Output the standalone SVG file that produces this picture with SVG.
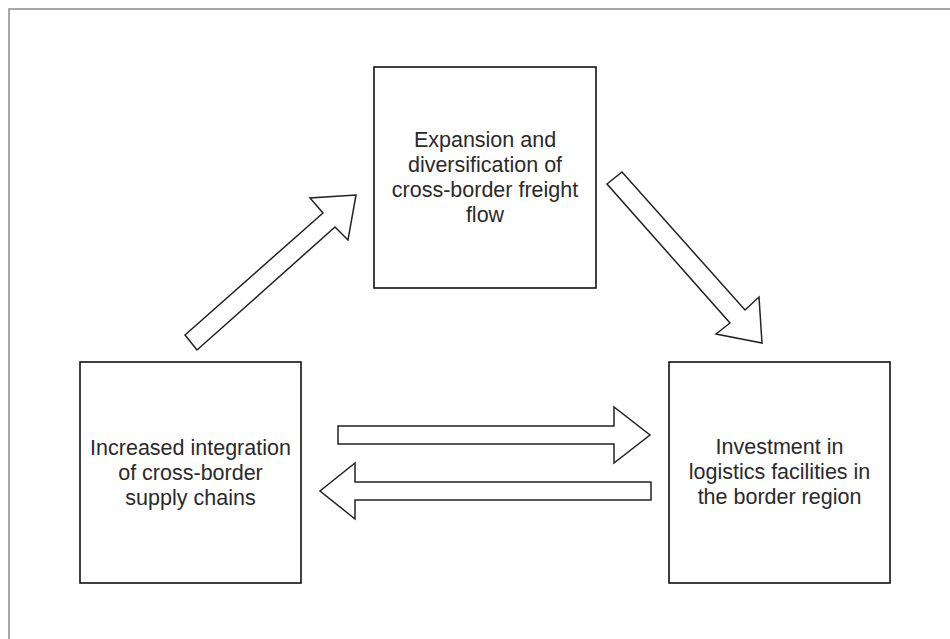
<svg xmlns="http://www.w3.org/2000/svg" width="950" height="639" viewBox="0 0 950 639">
<style>
.box{fill:#fff;stroke:#111;stroke-width:1.6}
.arr{fill:#fff;stroke:#222;stroke-width:1.5;stroke-linejoin:miter}
.lbl{font-family:"Liberation Sans",Arial,sans-serif;font-size:21.5px;fill:#2a2a2a;text-anchor:middle}
</style>
<rect x="0" y="0" width="950" height="639" fill="#fff"/>
<rect x="9" y="9" width="1000" height="1000" fill="none" stroke="#8c8c8c" stroke-width="1.5"/>
<g id="connectors">
<polygon class="arr" points="185,335 323,213 310,198 356,195 348,240 335,227 197,350"/>
<polygon class="arr" points="607,184 622,172 745,310 759,297 762,343 716,334 730,323"/>
<polygon class="arr" points="338,426 614,426 614,407 650,435 614,463 614,444 338,444"/>
<polygon class="arr" points="651,482 355,482 355,463 320,491 355,519 355,500 651,500"/>
</g>
<g id="node-top">
<rect class="box" x="374" y="67" width="222" height="221"/>
<text class="lbl" x="485" y="147">Expansion and</text>
<text class="lbl" x="485" y="172">diversification of</text>
<text class="lbl" x="485" y="197">cross-border freight</text>
<text class="lbl" x="485" y="222">flow</text>
</g>
<g id="node-left">
<rect class="box" x="80" y="362" width="221" height="221"/>
<text class="lbl" x="190.5" y="455">Increased integration</text>
<text class="lbl" x="190.5" y="480">of cross-border</text>
<text class="lbl" x="190.5" y="505">supply chains</text>
</g>
<g id="node-right">
<rect class="box" x="669" y="362" width="221" height="221"/>
<text class="lbl" x="779.5" y="454">Investment in</text>
<text class="lbl" x="779.5" y="479">logistics facilities in</text>
<text class="lbl" x="779.5" y="504">the border region</text>
</g>
</svg>
